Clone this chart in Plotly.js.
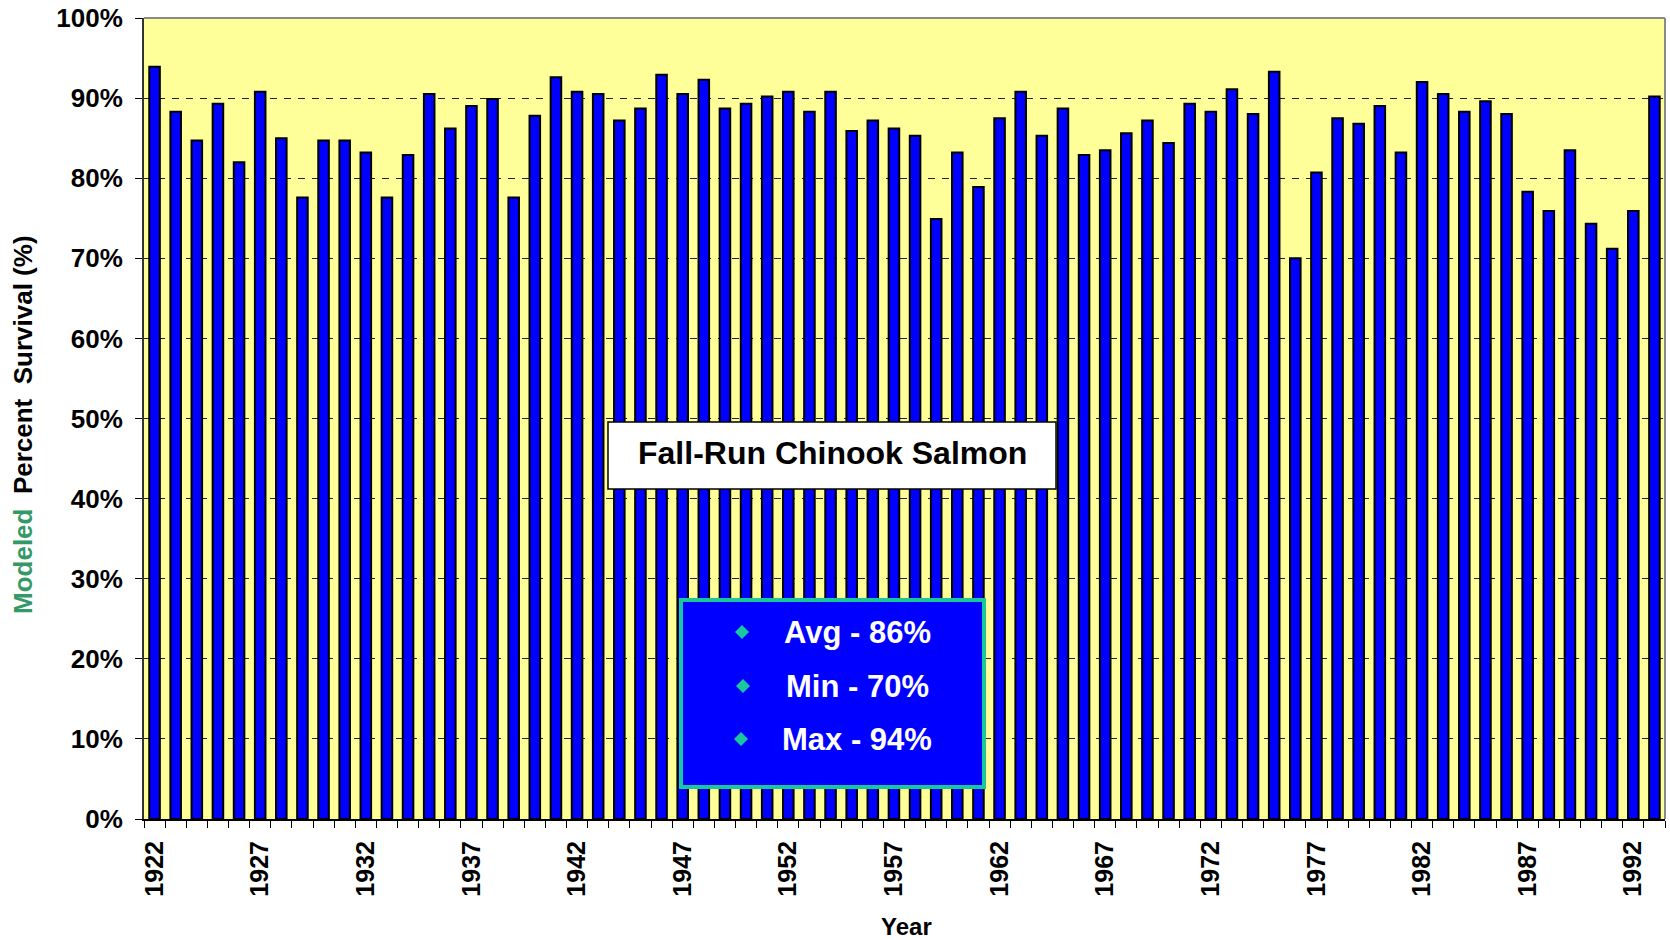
<!DOCTYPE html>
<html><head><meta charset="utf-8">
<script src="https://cdn.plot.ly/plotly-3.0.1.min.js"></script>
<style>html,body{margin:0;padding:0;background:#fff;} #chart{width:1670px;height:940px;}</style>
</head><body><div id="chart"></div>
<script>
// ---- data ----
const years = [1922,1923,1924,1925,1926,1927,1928,1929,1930,1931,1932,1933,1934,1935,1936,1937,1938,1939,1940,1941,
  1942,1943,1944,1945,1946,1947,1948,1949,1950,1951,1952,1953,1954,1955,1956,1957,1958,1959,1960,1961,
  1962,1963,1964,1965,1966,1967,1968,1969,1970,1971,1972,1973,1974,1975,1976,1977,1978,1979,1980,1981,
  1982,1983,1984,1985,1986,1987,1988,1989,1990,1991,1992,1993];
const survival = [93.9,88.3,84.7,89.3,82.0,90.8,85.0,77.6,84.7,84.7,83.2,77.6,82.9,90.5,86.2,89.0,89.9,77.6,87.8,92.6,
  90.8,90.5,87.2,88.7,92.9,90.5,92.3,88.7,89.3,90.2,90.8,88.3,90.8,85.9,87.2,86.2,85.3,74.9,83.2,78.9,
  87.5,90.8,85.3,88.7,82.9,83.5,85.6,87.2,84.4,89.3,88.3,91.1,88.0,93.3,70.0,80.7,87.5,86.8,89.0,83.2,
  92.0,90.5,88.3,89.6,88.0,78.3,75.9,83.5,74.3,71.2,75.9,90.2];
const tickYears = [1922,1927,1932,1937,1942,1947,1952,1957,1962,1967,1972,1977,1982,1987,1992];
const chartTitle = "Fall-Run Chinook Salmon";
const statLabels = ["Avg - 86%", "Min - 70%", "Max - 94%"];
const xTitle = "Year";

// ---- layout helpers ----
const L = 144, R = 1665, T = 18, B = 819;
const px = x => (x - L) / (R - L);
const py = y => (B - y) / (B - T);
const FONT = 'Arial, "Liberation Sans", sans-serif';
const boundaries = years.map(y => y - 0.5).concat([years[years.length - 1] + 0.5]);

function diamond(cx, cy, h) {
  const dx = h / (R - L), dy = h / (B - T);
  const x = px(cx), y = py(cy);
  return `M ${x},${y + dy} L ${x + dx},${y} L ${x},${y - dy} L ${x - dx},${y} Z`;
}

const trace = {
  type: 'bar', x: years, y: survival, width: 0.5,
  marker: {color: '#0000ff', line: {color: '#000000', width: 2}},
  hoverinfo: 'x+y'
};

const statY = [632, 686, 739];
const diamondX = [742, 743, 741];

const shapes = [
  {type: 'line', xref: 'paper', yref: 'paper', x0: 0, x1: 1, y0: 1, y1: 1, line: {color: '#8a8a8a', width: 2}},
  {type: 'line', xref: 'paper', yref: 'paper', x0: 1, x1: 1, y0: 0, y1: 1, line: {color: '#8a8a8a', width: 2}},
  {type: 'rect', xref: 'paper', yref: 'paper', x0: px(608), x1: px(1056), y0: py(489), y1: py(422),
   fillcolor: '#ffffff', line: {color: '#000000', width: 1.5}},
  {type: 'rect', xref: 'paper', yref: 'paper', x0: px(681), x1: px(984), y0: py(787), y1: py(600),
   fillcolor: '#0000ff', line: {color: '#1ac69c', width: 4}}
];
statY.forEach((y, i) => shapes.push({type: 'path', xref: 'paper', yref: 'paper', path: diamond(diamondX[i], y, 7),
  fillcolor: '#1ac69c', line: {width: 0}}));

const annotations = [
  {xref: 'paper', yref: 'paper', x: px(832), y: py(453), text: '<b>' + chartTitle + '</b>', showarrow: false,
   xanchor: 'center', yanchor: 'middle', font: {family: FONT, size: 32, color: '#000'}},
  {xref: 'paper', yref: 'paper', x: px(906), y: py(927), text: '<b>' + xTitle + '</b>', showarrow: false,
   xanchor: 'center', yanchor: 'middle', font: {family: FONT, size: 24, color: '#000'}},
  {xref: 'paper', yref: 'paper', x: px(23), y: py(425), textangle: -90, showarrow: false,
   xanchor: 'center', yanchor: 'middle',
   text: '<b><span style="color:#339966">Modeled</span>\u00a0\u00a0Percent\u00a0\u00a0Survival (%)</b>',
   font: {family: FONT, size: 26, color: '#000'}}
];
statLabels.forEach((s, i) => annotations.push({xref: 'paper', yref: 'paper', x: px(857), y: py(statY[i]),
  text: '<b>' + s + '</b>', showarrow: false, xanchor: 'center', yanchor: 'middle',
  font: {family: FONT, size: 31, color: '#ffffff'}}));

const layout = {
  width: 1670, height: 940,
  margin: {l: L, r: 1670 - R, t: T, b: 940 - B},
  paper_bgcolor: '#ffffff', plot_bgcolor: '#ffff99', showlegend: false, bargap: 0.5,
  xaxis: {
    range: [1921.5, 1993.5], tickmode: 'array', tickvals: tickYears, ticktext: tickYears.map(String),
    tickangle: -90, ticks: '', showgrid: false, zeroline: false,
    showline: true, linecolor: '#000', linewidth: 2,
    tickfont: {family: FONT, size: 25, color: '#000', weight: 'bold'},
    ticklabelstandoff: 10,
    minor: {tickmode: 'array', tickvals: boundaries, ticks: 'outside', ticklen: 7, tickcolor: '#000', tickwidth: 1, showgrid: false}
  },
  yaxis: {
    range: [0, 100], tickmode: 'linear', tick0: 0, dtick: 10, ticksuffix: '%',
    ticks: 'outside', ticklen: 7, tickcolor: '#000', tickwidth: 1,
    showgrid: true, gridcolor: '#222', gridwidth: 1, griddash: '7px,7px',
    zeroline: false, showline: true, linecolor: '#333', linewidth: 2,
    tickfont: {family: FONT, size: 26, color: '#000', weight: 'bold'},
    ticklabelstandoff: 7
  },
  shapes: shapes,
  annotations: annotations
};

Plotly.newPlot('chart', [trace], layout, {displayModeBar: false, staticPlot: true});
</script>
</body></html>
